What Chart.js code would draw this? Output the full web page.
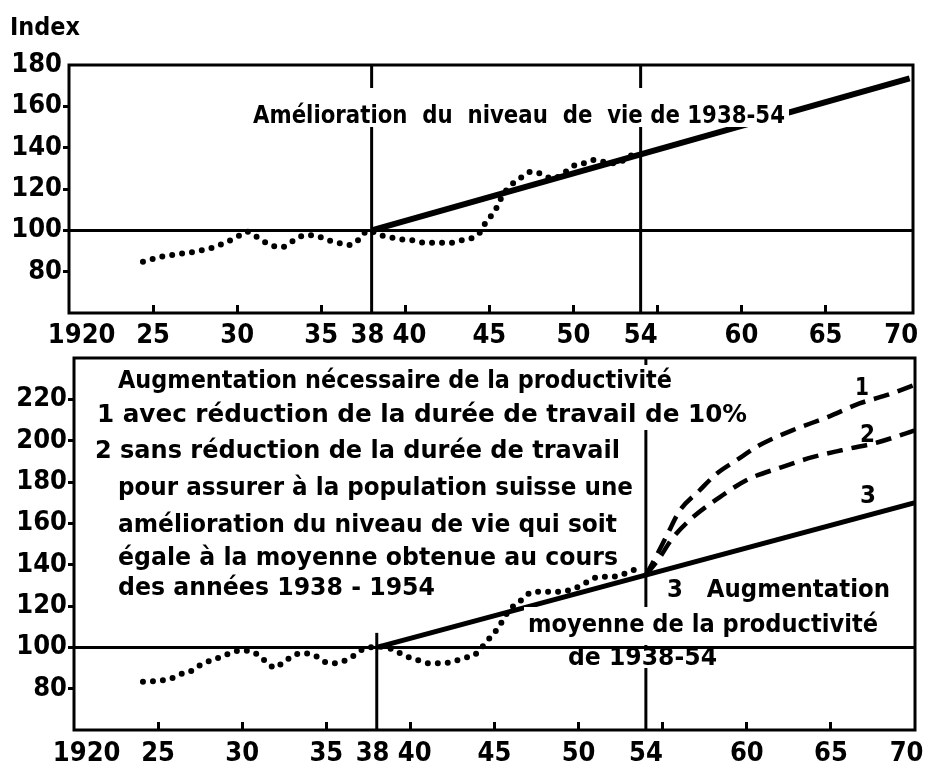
<!DOCTYPE html>
<html>
<head>
<meta charset="utf-8">
<script src="https://cdn.jsdelivr.net/npm/chart.js@4.4.1/dist/chart.umd.min.js"></script>
<style>
  html, body { margin: 0; padding: 0; background: #fff; }
  #wrap { position: relative; width: 934px; height: 771px; }
  #topChart { position: absolute; left: 0; top: 0; }
  #botChart { position: absolute; left: 0; top: 350px; }
</style>
</head>
<body>
<div id="wrap">
  <canvas id="topChart" width="934" height="350"></canvas>
  <canvas id="botChart" width="934" height="421"></canvas>
</div>
<script>
// ---- data ----
// top panel: index (dotted) and the 1938-54 trend
const topYears = [1924.4, 1925.5, 1926.5, 1927.5, 1928.4, 1929.3, 1930.2, 1930.6, 1931.0, 1931.5, 1932.0, 1932.6, 1933.0, 1933.4, 1933.9, 1934.5, 1935.0, 1935.5, 1936.0, 1936.5, 1936.9, 1937.3, 1937.8, 1938.5, 1939.1, 1939.7, 1940.5, 1941.2, 1942.0, 1942.7, 1943.4, 1943.9, 1944.4, 1944.8, 1945.3, 1945.8, 1946.3, 1946.7, 1947.1, 1947.5, 1948.0, 1948.4, 1948.8, 1949.4, 1950.1, 1950.6, 1951.2, 1951.8, 1952.3, 1952.8, 1953.4, 1953.8];
const topIndex = [84.8, 87.2, 88.5, 89.7, 91.3, 94, 97.7, 99.3, 97.7, 95, 92.9, 91.8, 92.9, 95.3, 97.3, 97.6, 96.6, 95, 94, 92.9, 93.2, 96.1, 100, 97.7, 96.6, 95.7, 95.1, 94, 94, 94, 95.3, 96.1, 98.5, 104, 109, 117, 122, 124.3, 126.8, 128.4, 127.6, 126, 125, 127.6, 131.6, 132.4, 134, 133.2, 132.4, 133.2, 136, 138.9];
const topTrendYears = [1938, 1970];
const topTrend = [100, 173.5];

// bottom panel: productivity index (dotted), trend 3, needed growth 1 and 2
const botYears = [1924.1, 1925.1, 1925.7, 1926.1, 1926.6, 1927.1, 1927.5, 1928.1, 1928.6, 1929.1, 1929.7, 1930.2, 1930.7, 1931.1, 1931.4, 1931.7, 1932.0, 1932.4, 1932.8, 1933.2, 1933.7, 1934.1, 1934.5, 1934.9, 1935.4, 1935.9, 1936.4, 1936.9, 1937.3, 1938.4, 1939.2, 1939.8, 1940.4, 1941.1, 1941.8, 1942.5, 1943.1, 1943.8, 1944.2, 1944.7, 1945.2, 1945.5, 1945.8, 1946.2, 1946.6, 1946.9, 1947.5, 1948.2, 1948.9, 1949.6, 1950.2, 1950.7, 1951.3, 1952.0, 1952.5, 1953.0, 1953.5, 1953.8];
const botIndex = [83.4, 83.9, 84.7, 86.1, 87.9, 89, 91.4, 93.5, 95, 96.6, 98.2, 98.4, 97.4, 95.5, 93, 91, 90.1, 92.6, 94.7, 96.6, 97.1, 96.6, 95.2, 93, 92.3, 93, 94.7, 97.6, 99.5, 100.3, 97.9, 95.5, 93.9, 92.3, 92.3, 93, 94.7, 96.3, 99.5, 104.4, 109.2, 113.2, 117.2, 120.5, 122.9, 125.3, 126.9, 126.9, 126.9, 128, 130.1, 132.6, 134.2, 134.2, 135, 136.6, 138.2, 139.3];
const trend3Years = [1938, 1970];
const trend3 = [100, 170];
const curve1Years = [1954, 1954.4, 1955.3, 1956.0, 1957.2, 1958.2, 1959.4, 1960.8, 1962.7, 1964.8, 1966.7, 1968.3, 1970];
const curve1 = [135, 140.8, 155, 166, 176, 184, 190.6, 198, 205, 211.4, 218, 222, 227];
const curve2Years = [1954, 1954.7, 1955.6, 1956.8, 1958.4, 1960, 1962, 1963.9, 1965.7, 1967.7, 1970];
const curve2 = [135, 142, 153, 163, 172.7, 181, 187, 192, 195.5, 199, 205];

// reference lines (year, from, to)
const topRefLines = [[1938, 60, 180], [1954, 60, 180]];
const botRefLines = [[1938, 60, 107], [1954, 60, 240]];

// axes
const xLabelYears = [1920, 1925, 1930, 1935, 1938, 1940, 1945, 1950, 1954, 1955, 1960, 1965, 1970];
const xMarkYears = [1925, 1930, 1935, 1940, 1945, 1950, 1955, 1960, 1965];
const topYTicks = [60, 80, 100, 120, 140, 160, 180];
const botYTicks = [60, 80, 100, 120, 140, 160, 180, 200, 220, 240];

// ---- helpers ----
const tickFamily = "'DejaVu Sans Condensed', 'Liberation Sans Narrow', 'DejaVu Sans', sans-serif";
const noteFamily = "'DejaVu Sans', sans-serif";
const clear = 'rgba(0,0,0,0)';

function pts(xs, ys) {
  return xs.map((x, i) => ({ x: x, y: ys[i] }));
}

function yearLabel(v) {
  if (v === 1920) return '   1920';
  if (v === 1955) return '';
  if (v === 1938) return '38 ';
  if (v === 1940) return ' 40';
  if (v === 1970) return '70  ';
  return String(v).slice(2);
}

function refDatasets(lines) {
  return lines.map(l => ({
    data: [{ x: l[0], y: l[1] }, { x: l[0], y: l[2] }],
    borderColor: '#000', borderWidth: 3, pointRadius: 0
  }));
}

function dotted(data) {
  return {
    data: data, borderColor: '#000', borderWidth: 6, borderDash: [0, 10],
    borderCapStyle: 'round', pointRadius: 0, cubicInterpolationMode: 'monotone'
  };
}

// writes the notes (with a white patch behind them when asked) and the frame
function notesPlugin(notes) {
  return {
    id: 'notes',
    afterDatasetsDraw(chart) {
      const ctx = chart.ctx;
      ctx.save();
      notes.forEach(n => {
        if (n.mask) {
          ctx.fillStyle = '#fff';
          ctx.fillRect(n.x - 4, n.mask[0], n.w + 8, n.mask[1] - n.mask[0]);
        }
      });
      notes.forEach(n => {
        ctx.font = 'bold ' + n.size + 'px ' + noteFamily;
        const m = ctx.measureText(n.t).width;
        ctx.save();
        ctx.translate(n.x, n.y);
        ctx.scale(n.w / m, 1);
        ctx.fillStyle = '#000';
        ctx.textBaseline = 'alphabetic';
        ctx.fillText(n.t, 0, 0);
        ctx.restore();
      });
      const a = chart.chartArea;
      ctx.lineWidth = 3;
      ctx.strokeStyle = '#000';
      ctx.strokeRect(a.left, a.top, a.right - a.left, a.bottom - a.top);
      ctx.restore();
    }
  };
}

function noPad(s) {
  s.paddingLeft = 0; s.paddingRight = 0; s.paddingTop = 0; s.paddingBottom = 0;
}

function scales(yTicks, yMin, yMax, xMax, yWidth, xHeight, xPad) {
  return {
    x: {
      type: 'linear', min: 1920, max: xMax,
      afterBuildTicks: s => { s.ticks = xLabelYears.map(v => ({ value: v })); },
      afterFit: s => { s.height = xHeight; noPad(s); },
      border: { display: false },
      grid: {
        drawOnChartArea: false, tickLength: -8, tickWidth: 3,
        tickColor: c => xMarkYears.includes(c.tick.value) ? '#000' : clear
      },
      ticks: {
        autoSkip: false, maxRotation: 0, padding: xPad, color: '#000',
        font: { family: tickFamily, size: 27, weight: 'bold' },
        callback: v => yearLabel(v)
      }
    },
    y: {
      type: 'linear', min: yMin, max: yMax,
      afterBuildTicks: s => { s.ticks = yTicks.map(v => ({ value: v })); },
      afterFit: s => { s.width = yWidth; noPad(s); },
      border: { display: false },
      grid: {
        lineWidth: 3, tickLength: 6, tickWidth: 3,
        color: c => c.tick.value === 100 ? '#000' : clear,
        tickColor: c => (c.tick.value === yMin || c.tick.value === yMax) ? clear : '#000'
      },
      ticks: {
        padding: 1, color: '#000',
        font: { family: tickFamily, size: 27, weight: 'bold' },
        callback: v => (v === yMin || v === yMax) && v !== 180 ? '' : v
      }
    }
  };
}

const baseOpts = {
  responsive: false, animation: false, devicePixelRatio: 1,
  plugins: { legend: { display: false }, tooltip: { enabled: false } }
};

// ---- top chart ----
const topNotes = [
  { t: 'Index', x: 10, y: 35, w: 70, size: 24 },
  { t: 'Amélioration  du  niveau  de  vie de 1938-54', x: 253, y: 123, w: 532, size: 24, mask: [88, 127] }
];

new Chart(document.getElementById('topChart'), {
  type: 'line',
  data: {
    datasets: refDatasets(topRefLines).concat([
      dotted(pts(topYears, topIndex)),
      { data: pts(topTrendYears, topTrend), borderColor: '#000', borderWidth: 6, pointRadius: 0 }
    ])
  },
  options: Object.assign({}, baseOpts, {
    layout: { padding: { top: 65, right: 21, left: 0, bottom: 0 } },
    scales: scales(topYTicks, 60, 180, 1970.2, 69, 37, 15)
  }),
  plugins: [notesPlugin(topNotes)]
});

// ---- bottom chart ----
const botNotes = [
  { t: 'Augmentation nécessaire de la productivité', x: 118, y: 38, w: 554, size: 24, mask: [15, 48] },
  { t: '1 avec réduction de la durée de travail de 10%', x: 97, y: 72, w: 650, size: 24, mask: [48, 80] },
  { t: '2 sans réduction de la durée de travail', x: 95, y: 108, w: 525, size: 24 },
  { t: 'pour assurer à la population suisse une', x: 118, y: 145, w: 515, size: 24 },
  { t: 'amélioration du niveau de vie qui soit', x: 118, y: 182, w: 499, size: 24 },
  { t: 'égale à la moyenne obtenue au cours', x: 118, y: 215, w: 500, size: 24 },
  { t: 'des années 1938 - 1954', x: 118, y: 245, w: 317, size: 24 },
  { t: '3   Augmentation', x: 667, y: 247, w: 223, size: 24 },
  { t: 'moyenne de la productivité', x: 528, y: 282, w: 350, size: 24, mask: [257, 295] },
  { t: 'de 1938-54', x: 568, y: 315, w: 149, size: 24, mask: [299, 318] },
  { t: '1', x: 855, y: 45, w: 14, size: 24 },
  { t: '2', x: 860, y: 92, w: 15, size: 24 },
  { t: '3', x: 860, y: 153, w: 16, size: 24 }
];

new Chart(document.getElementById('botChart'), {
  type: 'line',
  data: {
    datasets: refDatasets(botRefLines).concat([
      dotted(pts(botYears, botIndex)),
      { data: pts(trend3Years, trend3), borderColor: '#000', borderWidth: 5, pointRadius: 0 },
      { data: pts(curve1Years, curve1), borderColor: '#000', borderWidth: 4.5, borderDash: [16, 9], pointRadius: 0, cubicInterpolationMode: 'monotone' },
      { data: pts(curve2Years, curve2), borderColor: '#000', borderWidth: 4.5, borderDash: [16, 9], pointRadius: 0, cubicInterpolationMode: 'monotone' }
    ])
  },
  options: Object.assign({}, baseOpts, {
    layout: { padding: { top: 8, right: 19, left: 0, bottom: 0 } },
    scales: scales(botYTicks, 60, 240, 1970, 74, 41, 16)
  }),
  plugins: [notesPlugin(botNotes)]
});
</script>
</body>
</html>
